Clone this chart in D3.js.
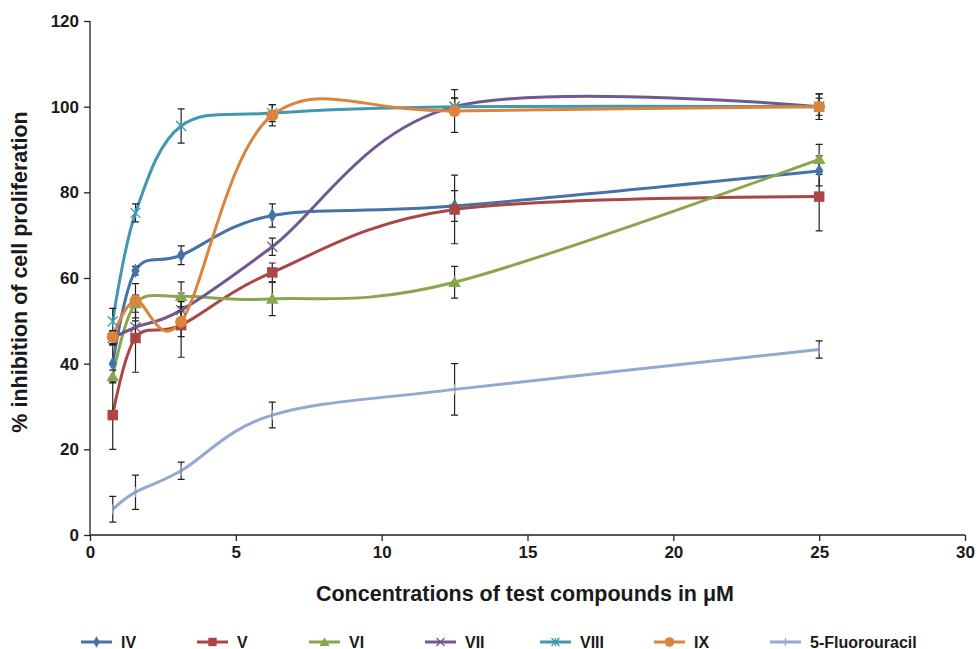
<!DOCTYPE html>
<html>
<head>
<meta charset="utf-8">
<script src="https://cdn.jsdelivr.net/npm/d3@7"></script>
<style>
  body { margin: 0; background: #fff; }
  svg text { font-family: "Liberation Sans", Arial, sans-serif; font-weight: bold; fill: #1a1a1a; }
</style>
</head>
<body>
<div id="chart"></div>
<script>
const width = 978;
const height = 649;
const margin = { top: 21, right: 13, bottom: 114, left: 90 };

// concentrations (µM)
const concentrations = [0.78, 1.56, 3.125, 6.25, 12.5, 25];
const seriesNames = ["IV", "V", "VI", "VII", "VIII", "IX", "5-Fluorouracil"];

const ivValues = [40, 61.7, 65.3, 74.6, 76.8, 85];
const ivErrors = [4.3, 1, 2.2, 2.7, 3.6, 3.5];
const vValues = [28, 46, 49, 61.3, 76, 79];
const vErrors = [8, 8, 7.5, 2.2, 8, 8];
const viValues = [37, 54, 55.7, 55.1, 59, 87.7];
const viErrors = [1.5, 2, 3.4, 3.9, 3.7, 3.5];
const viiValues = [46, 48.5, 52.5, 67.3, 100, 100];
const viiErrors = [1.5, 1.5, 2, 2, 2, 2];
const viiiValues = [49.9, 75.2, 95.5, 98.5, 100, 100];
const viiiErrors = [3, 2.1, 4, 2, 2, 3];
const ixValues = [46.2, 54.7, 49.8, 98, 99, 100];
const ixErrors = [1.5, 4, 3.5, 2.5, 5, 3];
const fuValues = [6, 10, 15, 28, 34, 43.3];
const fuErrors = [3, 4, 2, 3, 6, 2];

const colors = ["#4572A7", "#AA4643", "#89A54E", "#71588F", "#4198AF", "#DB843D", "#93A9CF"];
const markers = ["diamond", "square", "triangle", "x", "star", "circle", "plus"];
const xTicks = [0, 5, 10, 15, 20, 25, 30];
const yTicks = [0, 20, 40, 60, 80, 100, 120];

const allValues = [ivValues, vValues, viValues, viiValues, viiiValues, ixValues, fuValues];
const allErrors = [ivErrors, vErrors, viErrors, viiErrors, viiiErrors, ixErrors, fuErrors];

const series = seriesNames.map((name, i) => ({
  name: name,
  color: colors[i],
  marker: markers[i],
  points: concentrations.map((c, j) => ({ x: c, y: allValues[i][j], err: allErrors[i][j] })),
}));

const svg = d3
  .select("#chart")
  .append("svg")
  .attr("width", width)
  .attr("height", height);

const x = d3.scaleLinear().domain([0, 30]).range([margin.left, width - margin.right]);
const y = d3.scaleLinear().domain([0, 120]).range([height - margin.bottom, margin.top]);

// marker drawing
function drawMarker(g, type, color, cx, cy, scale) {
  const s = scale || 1;
  if (type === "diamond") {
    g.append("path").attr("d", d3.symbol(d3.symbolDiamond, 60 * s * s)())
      .attr("transform", `translate(${cx},${cy})`).attr("fill", color);
  } else if (type === "square") {
    g.append("path").attr("d", d3.symbol(d3.symbolSquare, 110 * s * s)())
      .attr("transform", `translate(${cx},${cy})`).attr("fill", color);
  } else if (type === "triangle") {
    g.append("path").attr("d", d3.symbol(d3.symbolTriangle, 70 * s * s)())
      .attr("transform", `translate(${cx},${cy + 1})`).attr("fill", color);
  } else if (type === "circle") {
    g.append("circle").attr("cx", cx).attr("cy", cy).attr("r", 6 * s).attr("fill", color);
  } else if (type === "x") {
    const r = 5 * s;
    g.append("path").attr("d", `M${cx - r},${cy - r}L${cx + r},${cy + r}M${cx - r},${cy + r}L${cx + r},${cy - r}`)
      .attr("stroke", color).attr("stroke-width", 1.3).attr("fill", "none");
  } else if (type === "star") {
    const r = 5 * s;
    g.append("path").attr("d", `M${cx - r},${cy - r}L${cx + r},${cy + r}M${cx - r},${cy + r}L${cx + r},${cy - r}M${cx},${cy - r}L${cx},${cy + r}`)
      .attr("stroke", color).attr("stroke-width", 1.3).attr("fill", "none");
  } else if (type === "plus") {
    const r = 5 * s;
    g.append("path").attr("d", `M${cx},${cy - r}L${cx},${cy + r}`)
      .attr("stroke", color).attr("stroke-width", 1.3).attr("fill", "none");
  }
}

// axes
const xAxis = svg.append("g")
  .attr("transform", `translate(0,${y(0)})`)
  .call(d3.axisBottom(x).tickValues(xTicks).tickSize(6).tickPadding(5));
const yAxis = svg.append("g")
  .attr("transform", `translate(${x(0)},0)`)
  .call(d3.axisLeft(y).tickValues(yTicks).tickSize(6).tickPadding(5));
[xAxis, yAxis].forEach((a) => {
  a.selectAll("path, line").attr("stroke", "#222").attr("stroke-width", 1.3);
  a.selectAll("text").style("font-size", "17px").attr("fill", "#1a1a1a")
    .style("font-family", "'Liberation Sans', Arial, sans-serif").style("font-weight", "bold");
});
xAxis.select(".domain").attr("d", `M${x(0)},0H${x(30)}`);
yAxis.select(".domain").attr("d", `M0,${y(0)}V${y(120)}`);

// lines
const line = d3.line()
  .x((d) => x(d.x))
  .y((d) => y(d.y))
  .curve(d3.curveCardinal.tension(0));

series.forEach((s) => {
  svg.append("path")
    .datum(s.points)
    .attr("fill", "none")
    .attr("stroke", s.color)
    .attr("stroke-width", 3)
    .attr("d", line);
});

// error bars
const errG = svg.append("g");
series.forEach((s) => {
  s.points.forEach((p) => {
    const px = x(p.x);
    const y1 = y(p.y + p.err);
    const y2 = y(p.y - p.err);
    errG.append("path")
      .attr("d", `M${px},${y1}V${y2}M${px - 3.5},${y1}H${px + 3.5}M${px - 3.5},${y2}H${px + 3.5}`)
      .attr("stroke", "#222")
      .attr("stroke-width", 1.2)
      .attr("fill", "none");
  });
});

// markers
const markG = svg.append("g");
series.forEach((s) => {
  s.points.forEach((p) => drawMarker(markG, s.marker, s.color, x(p.x), y(p.y)));
});

// axis titles
svg.append("text")
  .attr("x", 525)
  .attr("y", 594)
  .attr("text-anchor", "middle")
  .attr("dominant-baseline", "central")
  .style("font-size", "21.5px")
  .text("Concentrations of test compounds in μM");

svg.append("text")
  .attr("transform", `translate(20,${272}) rotate(-90)`)
  .attr("text-anchor", "middle")
  .attr("dominant-baseline", "central")
  .style("font-size", "21.5px")
  .text("% inhibition of cell proliferation");

// legend
const legendStarts = [81, 197, 309, 425, 540, 654, 770];
const legendY = 642;
const legend = svg.append("g");
series.forEach((s, i) => {
  const lx = legendStarts[i];
  legend.append("line")
    .attr("x1", lx).attr("x2", lx + 31)
    .attr("y1", legendY).attr("y2", legendY)
    .attr("stroke", s.color).attr("stroke-width", 3);
  drawMarker(legend, s.marker, s.color, lx + 15.5, legendY, 0.8);
  legend.append("text")
    .attr("x", lx + 40)
    .attr("y", legendY)
    .attr("dominant-baseline", "central")
    .style("font-size", "16px")
    .text(s.name);
});
</script>
</body>
</html>
